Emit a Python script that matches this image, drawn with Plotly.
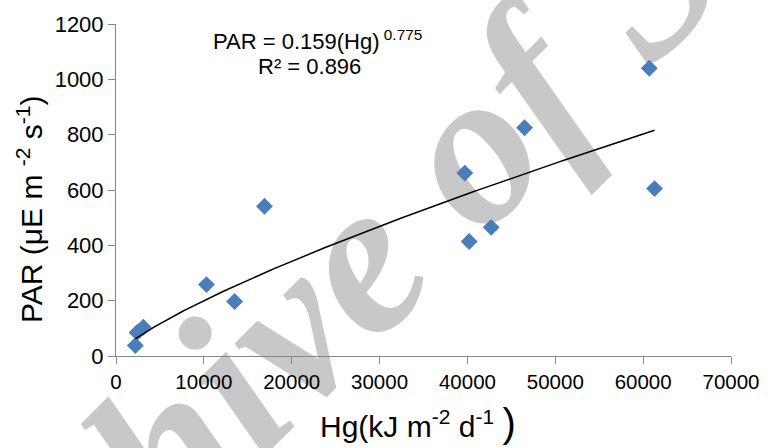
import numpy as np
import plotly.graph_objects as go

# Data
hg = [2200, 2400, 3100, 10300, 13500, 16900, 39700, 40200, 42700, 46500, 60700, 61300]
par = [38, 85, 104, 258, 197, 541, 661, 414, 465, 825, 1040, 605]
coef_a = 0.159
coef_b = 0.775
r2 = 0.896
x_ticks = [0, 10000, 20000, 30000, 40000, 50000, 60000, 70000]
y_ticks = [0, 200, 400, 600, 800, 1000, 1200]

fx = np.linspace(min(hg), max(hg), 200)
fy = coef_a * fx ** coef_b

fig = go.Figure()
fig.add_trace(go.Scatter(x=hg, y=par, mode="markers",
                         marker=dict(symbol="diamond", size=13, color="#4a7ebb"),
                         showlegend=False))
fig.add_trace(go.Scatter(x=fx, y=fy, mode="lines",
                         line=dict(color="black", width=1.5), showlegend=False))

axcol = "#868686"
font = "Liberation Sans, Arial, sans-serif"
fig.update_layout(
    width=772, height=448,
    margin=dict(l=116, r=39, t=19, b=92),
    paper_bgcolor="white", plot_bgcolor="white",
    font=dict(family=font, color="black", size=21),
    xaxis=dict(range=[0, 70000], tickvals=x_ticks, tickformat="d", showgrid=False,
               zeroline=False, showline=True, linecolor=axcol, ticks="outside",
               ticklen=7, tickcolor=axcol, tickfont=dict(size=20.5)),
    yaxis=dict(range=[0, 1200], tickvals=y_ticks, tickformat="d", showgrid=False,
               zeroline=False, showline=True, linecolor=axcol, ticks="outside",
               ticklen=7, tickcolor=axcol, tickfont=dict(size=22)),
)

# watermark
fig.add_shape(type="line", xref="paper", yref="paper",
              x0=0.2744, y0=0.1789, x1=0.5036, y1=0.5985,
              line=dict(width=0, color="rgba(0,0,0,0)"), layer="below",
              label=dict(text="<b><i>Archive of SID</i></b>", textposition="middle",
                         yanchor="middle", textangle=-45,
                         font=dict(family="Liberation Serif", size=220, color="#c8c8c8")))

fig.add_annotation(xref="paper", yref="paper", x=-0.141, y=0.4407, textangle=-90,
                   text="PAR (μE m <sup>-2</sup> s<sup>-1</sup>)", showarrow=False,
                   font=dict(size=30), xanchor="center", yanchor="middle")
fig.add_annotation(xref="paper", yref="paper", x=0.491, y=-0.2018,
                   text="Hg(kJ m<sup>-2</sup> d<sup>-1</sup> <span style='font-size:40px'>)</span>",
                   showarrow=False, font=dict(size=30), xanchor="center", yanchor="middle")
fig.add_annotation(xref="paper", yref="paper", x=0.327, y=0.9525,
                   text=f"PAR = {coef_a}(Hg)<sup> {coef_b}</sup>", showarrow=False,
                   font=dict(size=22), xanchor="center", yanchor="middle")
fig.add_annotation(xref="paper", yref="paper", x=0.314, y=0.872,
                   text=f"R² = {r2}", showarrow=False,
                   font=dict(size=22), xanchor="center", yanchor="middle")

fig.write_html("out.html")
